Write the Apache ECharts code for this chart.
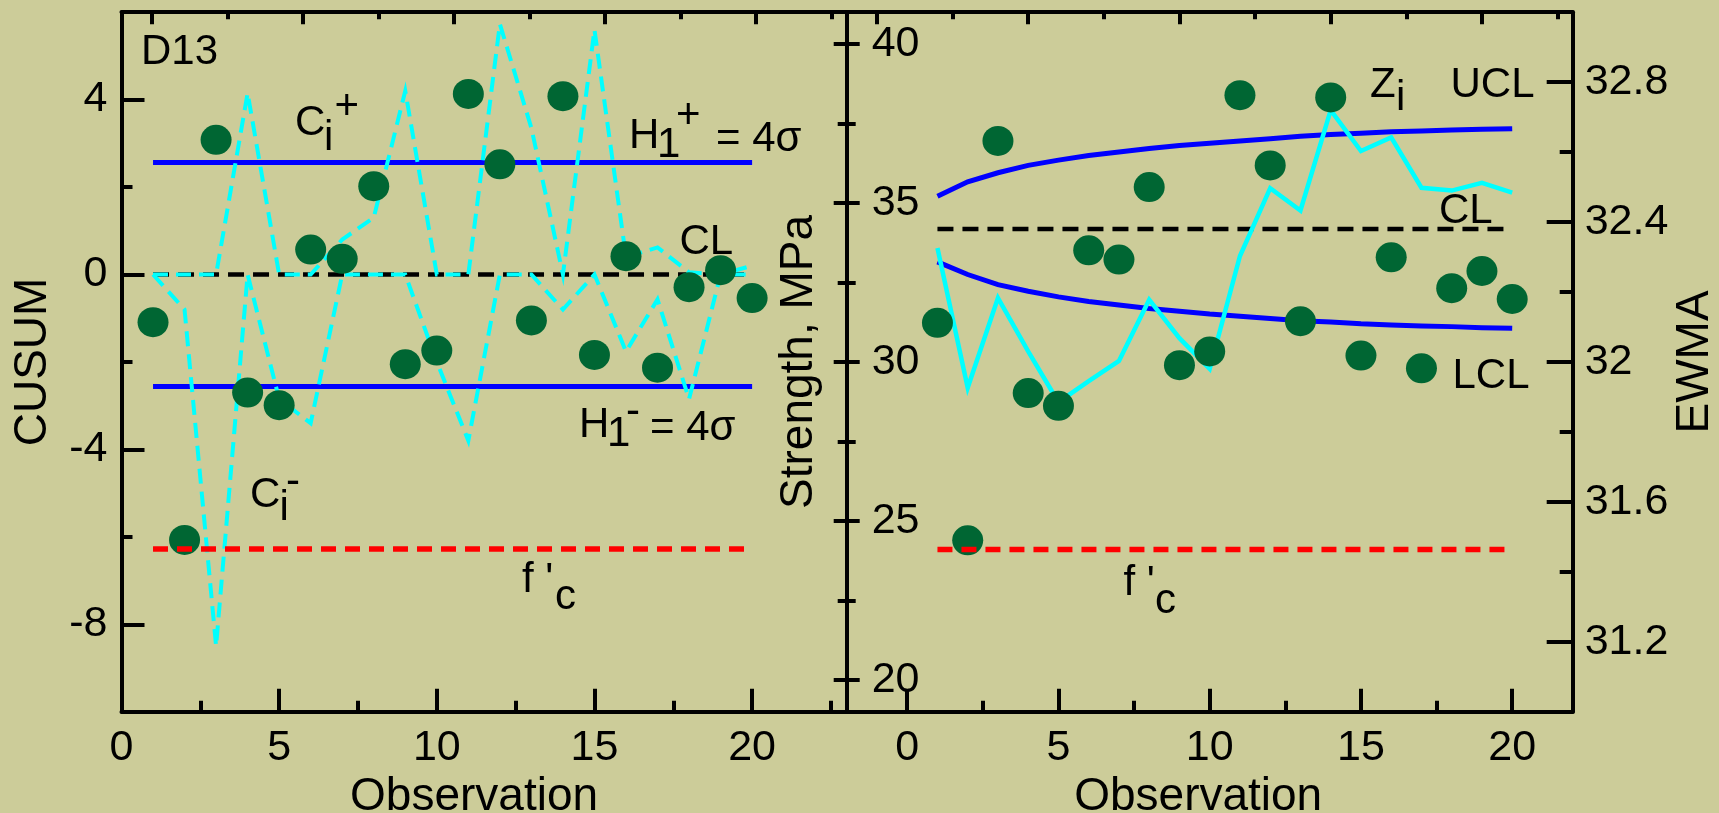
<!DOCTYPE html>
<html>
<head>
<meta charset="utf-8">
<script src="https://cdn.jsdelivr.net/npm/echarts@6/dist/echarts.min.js"></script>
<style>
html,body{margin:0;padding:0;background:#cccc99;}
#chart{width:1719px;height:813px;}
</style>
</head>
<body>
<div id="chart"></div>
<script>
// ---------------- data ----------------
const observations = [1,2,3,4,5,6,7,8,9,10,11,12,13,14,15,16,17,18,19,20];
// left panel (CUSUM)
const cusumDots = [-1.09,-6.07,3.08,-2.70,-2.99,0.57,0.36,2.02,-2.05,-1.74,4.13,2.52,-1.05,4.08,-1.84,0.42,-2.13,-0.29,0.10,-0.54];
const cPlus  = [0,0,0,4.15,0,0,0.8,1.3,4.2,0,0,5.73,3.35,0,5.6,0.4,0.62,0.05,0,0.2];
const cMinus = [0,-0.8,-8.5,0,-2.85,-3.4,0,0,0,-2.0,-3.8,0,0,-0.8,0,-1.76,-0.57,-2.85,0,0];
const hPlus = 2.56;
const hMinus = -2.56;
const cusumCL = 0;
const cusumFc = -6.28;
const lineStart = 1;
const lineEnd = 20;
// right panel (Strength / EWMA)
const strengthDots = [31.23,24.39,36.95,29.02,28.62,33.51,33.22,35.5,29.9,30.33,38.39,36.18,31.28,38.32,30.2,33.29,29.8,32.32,32.86,31.98];
const zi  = [32.326,31.926,32.183,32.03,31.885,31.945,32.003,32.178,32.068,31.98,32.303,32.497,32.433,32.72,32.603,32.642,32.498,32.49,32.512,32.484];
const ucl = [32.474,32.515,32.541,32.562,32.577,32.59,32.6,32.61,32.619,32.625,32.632,32.638,32.645,32.65,32.654,32.658,32.66,32.663,32.665,32.667];
const lcl = [32.286,32.25,32.221,32.202,32.186,32.173,32.163,32.153,32.145,32.137,32.131,32.124,32.118,32.114,32.109,32.106,32.103,32.101,32.098,32.096];
const ewmaCL = 32.38;
const strengthFc = 24.1;
// tick values
const obsMajor = [0,5,10,15,20];
const leftObsMinor = [2.5,7.5,12.5,17.5,22.5];
const rightObsMinor = [2.5,7.5,12.5,17.5];
const topMajor = [0,5,10,15,20];
const topMinor = [2.5,7.5,12.5,17.5,22.5];
const cusumMajor = [-8,-4,0,4];
const cusumMinor = [-6,-2,2];
const strengthMajor = [20,25,30,35,40];
const strengthMinor = [22.5,27.5,32.5,37.5];
const ewmaMajor = [31.2,31.6,32,32.4,32.8];
const ewmaMinor = [31.4,31.8,32.2,32.6];

// ---------------- chart ----------------
const FONT = "'Liberation Sans', Arial, sans-serif";
const BLACK = '#000000';
const chart = echarts.init(document.getElementById('chart'), null, {renderer: 'canvas'});

function pairs(xs, ys) { return xs.map((x, i) => [x, ys[i]]); }
function hline(v) { return [[lineStart, v], [lineEnd, v]]; }

function xAx(grid, min, max, pos, opts) {
  const o = {
    type: 'value', gridIndex: grid, min: min, max: max, position: pos,
    splitLine: {show: false},
    axisLine: {show: !!opts.line, onZero: false, lineStyle: {color: BLACK, width: 4}},
    axisTick: {show: true, inside: true, length: opts.len, customValues: opts.ticks,
               lineStyle: {color: BLACK, width: 4}},
    axisLabel: {show: !!opts.labels}
  };
  if (opts.labels) {
    o.axisLabel = {show: true, customValues: opts.labels, margin: 15, color: BLACK,
                   fontSize: 43, fontFamily: FONT};
  }
  if (opts.name) {
    o.name = opts.name; o.nameLocation = 'middle'; o.nameGap = 58;
    o.nameTextStyle = {fontSize: 46, fontFamily: FONT, color: BLACK, padding: opts.namePad};
  }
  return o;
}
function yAx(grid, min, max, pos, opts) {
  const o = {
    type: 'value', gridIndex: grid, min: min, max: max, position: pos,
    splitLine: {show: false},
    axisLine: {show: !!opts.line, onZero: false, lineStyle: {color: BLACK, width: 4}},
    axisTick: {show: true, inside: !!opts.inside, length: opts.len, customValues: opts.ticks,
               lineStyle: {color: BLACK, width: 4}},
    axisLabel: {show: false}
  };
  if (opts.labels) {
    o.axisLabel = {show: true, customValues: opts.labels, margin: opts.margin, inside: !!opts.labelInside,
                   color: BLACK, fontSize: 43, fontFamily: FONT};
  }
  if (opts.name) {
    o.name = opts.name; o.nameLocation = 'middle'; o.nameGap = opts.nameGap;
    o.nameTextStyle = {fontSize: 46, fontFamily: FONT, color: BLACK};
  }
  return o;
}

const xAxis = [
  // left grid
  xAx(0, 0, 23, 'bottom', {line: true, len: 23, ticks: obsMajor, labels: obsMajor, name: 'Observation', namePad: [0, 20, 0, 0]}), //0
  xAx(0, 0, 23, 'bottom', {len: 11, ticks: leftObsMinor}),                                  //1
  xAx(0, -1, 23, 'top', {line: true, len: 12, ticks: topMajor}),                            //2
  xAx(0, -1, 23, 'top', {len: 7, ticks: topMinor}),                                         //3
  // right grid
  xAx(1, -2, 22, 'bottom', {line: true, len: 23, ticks: obsMajor, labels: obsMajor, name: 'Observation', namePad: [0, 23, 0, 0]}), //4
  xAx(1, -2, 22, 'bottom', {len: 11, ticks: rightObsMinor}),                                //5
  xAx(1, -1, 23, 'top', {line: true, len: 12, ticks: topMajor}),                            //6
  xAx(1, -1, 23, 'top', {len: 7, ticks: topMinor})                                          //7
];
const yAxis = [
  yAx(0, -10, 6, 'left', {line: true, inside: true, len: 23, ticks: cusumMajor, labels: cusumMajor, margin: 14, name: 'CUSUM', nameGap: 65}), //0
  yAx(0, -10, 6, 'left', {inside: true, len: 11, ticks: cusumMinor}),                                                                       //1
  yAx(1, 19, 41, 'left', {line: true, inside: false, len: 13, ticks: strengthMajor, labels: strengthMajor, labelInside: true, margin: 25, name: 'Strength, MPa', nameGap: 24}), //2
  yAx(1, 19, 41, 'left', {inside: true, len: 13, ticks: strengthMajor}),   //3
  yAx(1, 19, 41, 'left', {inside: false, len: 9, ticks: strengthMinor}),   //4
  yAx(1, 19, 41, 'left', {inside: true, len: 9, ticks: strengthMinor}),    //5
  yAx(1, 31, 33, 'right', {line: true, inside: true, len: 26, ticks: ewmaMajor, labels: ewmaMajor, margin: 12, name: 'EWMA', nameGap: 92}), //6
  yAx(1, 31, 33, 'right', {inside: true, len: 13, ticks: ewmaMinor})       //7
];

function lineSeries(xi, yi, data, color, width, type, z) {
  return {type: 'line', xAxisIndex: xi, yAxisIndex: yi, data: data, symbol: 'none', silent: true,
          lineStyle: {color: color, width: width, type: type, cap: 'butt', join: 'miter'}, z: z};
}
function dotSeries(xi, yi, data) {
  return {type: 'scatter', xAxisIndex: xi, yAxisIndex: yi, data: data, symbol: 'circle', symbolSize: [31, 30],
          itemStyle: {color: '#006633', opacity: 1}, z: 5};
}

const series = [
  // left
  lineSeries(0, 0, hline(hPlus), '#0000ff', 5, 'solid', 2),
  lineSeries(0, 0, hline(hMinus), '#0000ff', 5, 'solid', 2),
  lineSeries(0, 0, hline(cusumCL), BLACK, 4.5, [16, 9], 3),
  lineSeries(0, 0, pairs(observations, cPlus), '#00ffff', 4, [15, 8], 4),
  lineSeries(0, 0, pairs(observations, cMinus), '#00ffff', 4, [15, 8], 4),
  dotSeries(0, 0, pairs(observations, cusumDots)),
  lineSeries(0, 0, hline(cusumFc), '#ff0000', 5.5, [15, 9], 6),
  // right
  lineSeries(4, 6, pairs(observations, ucl), '#0000ff', 5, 'solid', 2),
  lineSeries(4, 6, pairs(observations, lcl), '#0000ff', 5, 'solid', 2),
  lineSeries(4, 6, hline(ewmaCL), BLACK, 4.5, [16, 9], 3),
  lineSeries(4, 6, pairs(observations, zi), '#00ffff', 4.5, 'solid', 4),
  dotSeries(4, 2, pairs(observations, strengthDots)),
  lineSeries(4, 2, hline(strengthFc), '#ff0000', 5.5, [15, 9], 6)
];

// annotation texts (pixel positions of label anchors)
function t(x, y, s, size) {
  return {type: 'text', x: x, y: y, z: 100, silent: true,
          style: {text: s, fontSize: size || 42, fontFamily: FONT, fill: BLACK,
                  align: 'left', verticalAlign: 'middle', textAlign: 'left', textVerticalAlign: 'middle'}};
}
const graphic = [
  t(141, 52, 'D13'),
  // C_i^+
  t(295, 123.5, 'C'), t(324, 138, 'i'), t(334.5, 107, '+'),
  // C_i^-
  t(250, 495.5, 'C'), t(279.5, 508.5, 'i'), t(286, 482.5, '-'),
  // H1+ = 4σ
  t(629, 136, 'H'), t(657, 145, '1'), t(676, 116, '+'), t(716, 139.5, '= 4σ'),
  // H1- = 4σ
  t(579, 425, 'H'), t(607, 434, '1'), t(626, 412, '-'), t(650, 428, '= 4σ'),
  t(679.5, 242.6, 'CL'),
  // f'c left
  t(522, 580.5, "f '"), t(555, 597, 'c'),
  // right panel
  t(1370, 85, 'Z'), t(1396, 98.5, 'i'),
  t(1450.5, 85, 'UCL'),
  t(1439, 211, 'CL'),
  t(1452.5, 376.4, 'LCL'),
  t(1123.5, 583.8, "f '"), t(1155, 601, 'c')
];

const option = {
  backgroundColor: '#cccc99',
  animation: false,
  grid: [
    {left: 121.5, top: 12.2, width: 725.2, height: 699.5, containLabel: false, outerBoundsMode: 'none'},
    {left: 846.7, top: 12.2, width: 726, height: 699.5, containLabel: false, outerBoundsMode: 'none'}
  ],
  xAxis: xAxis,
  yAxis: yAxis,
  series: series,
  graphic: graphic
};
chart.setOption(option);
</script>
</body>
</html>
